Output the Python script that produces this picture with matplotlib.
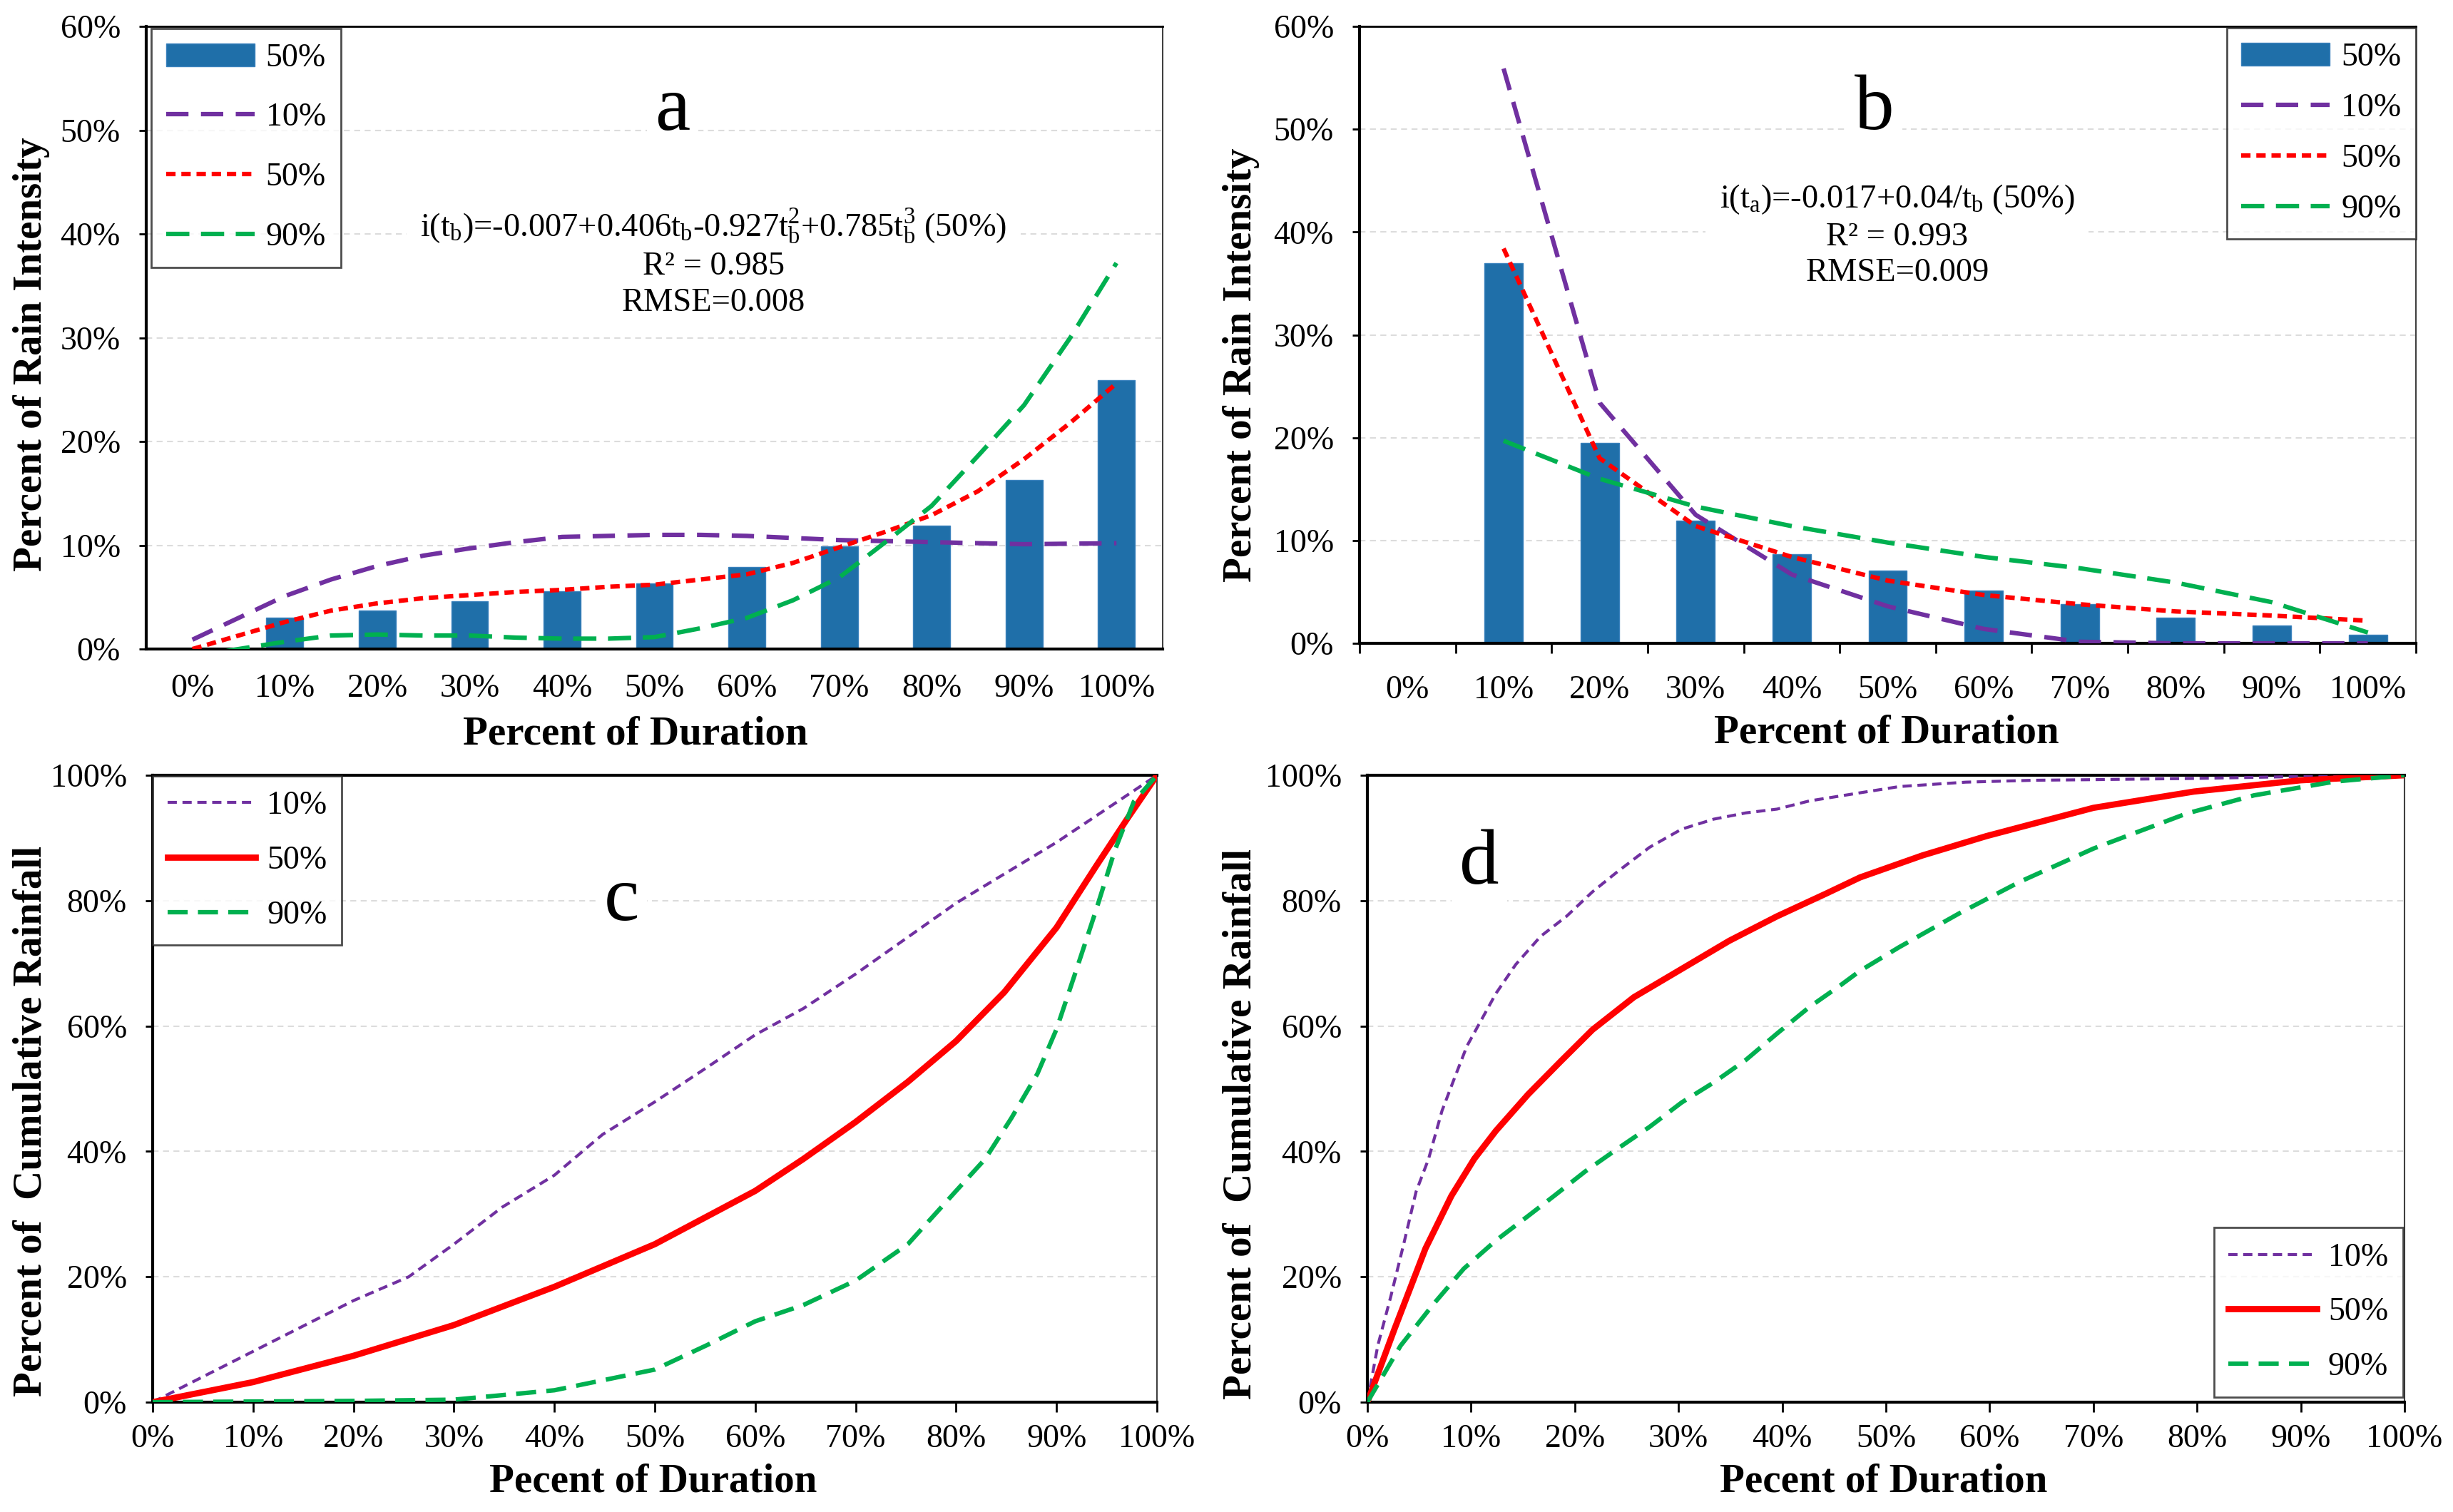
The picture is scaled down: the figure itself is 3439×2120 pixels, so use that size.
import matplotlib
matplotlib.use('Agg')
import matplotlib.pyplot as plt
import numpy as np
from matplotlib.ticker import FixedLocator, FuncFormatter

plt.rcParams['font.family'] = 'Liberation Serif'
plt.rcParams['mathtext.fontset'] = 'custom'
plt.rcParams['mathtext.rm'] = 'Liberation Serif'
plt.rcParams['mathtext.it'] = 'Liberation Serif:italic'

# ---- data (percent) ----
cat_labels = ['0%', '10%', '20%', '30%', '40%', '50%', '60%', '70%', '80%', '90%', '100%']
bar_pos = [1, 2, 3, 4, 5, 6, 7, 8, 9, 10]

# panel a: bars = observed 50%, curves read at every half category
a_bar = [3.0, 3.7, 4.6, 5.6, 6.3, 7.9, 9.9, 11.9, 16.3, 25.9]
a_line_x = [0, 0.5, 1, 1.5, 2, 2.5, 3, 3.5, 4, 4.5, 5, 5.5, 6, 6.5, 7, 7.5, 8, 8.5, 9, 9.5, 10]
a_p10 = [0.9, 3.0, 5.1, 6.7, 8.0, 9.0, 9.7, 10.3, 10.8, 10.9, 11.0, 11.0, 10.9, 10.7, 10.5,
         10.4, 10.3, 10.2, 10.1, 10.15, 10.2]
a_p50 = [0.0, 1.3, 2.6, 3.7, 4.4, 4.9, 5.2, 5.5, 5.7, 6.0, 6.2, 6.7, 7.2, 8.3, 9.8,
         11.3, 12.9, 15.2, 18.3, 21.8, 25.6]
a_p90 = [-0.75, 0.0, 0.7, 1.3, 1.4, 1.3, 1.3, 1.1, 1.0, 1.0, 1.15, 2.0, 3.0, 4.7, 6.9,
         10.3, 13.8, 18.6, 23.5, 30.0, 37.2]

# panel b
b_bar = [37.0, 19.5, 11.9, 8.7, 7.1, 5.1, 3.8, 2.5, 1.7, 0.86]
b_pos = [1, 2, 3, 4, 5, 6, 7, 8, 9, 10]
b_p10 = [55.9, 23.4, 12.5, 6.7, 3.6, 1.4, 0.15, 0.0, 0.0, 0.0]
b_p50 = [38.4, 18.0, 11.4, 8.4, 6.1, 4.7, 3.8, 3.1, 2.7, 2.2]
b_p90 = [19.7, 16.0, 13.3, 11.4, 9.8, 8.4, 7.3, 5.9, 4.0, 1.05]

# panel c: cumulative rainfall
c_p10_x = [0, 10, 20, 25.5, 30, 34.8, 40, 44.8, 50, 55.2, 60, 64.8, 70, 80, 90, 100]
c_p10_y = [0, 8.1, 16.2, 20, 25.2, 31.1, 36.2, 42.7, 47.9, 53.4, 58.6, 62.8, 68.3, 79.6, 89.3, 100]
c_p50_x = [0, 10, 20, 30, 40, 50, 60, 64.8, 70, 75.2, 80, 84.8, 90, 93.9, 97.1, 100]
c_p50_y = [0, 3.2, 7.4, 12.3, 18.4, 25.2, 33.7, 38.8, 44.7, 51.1, 57.6, 65.4, 75.7, 85.4, 93.2, 100]
c_p90_x = [0, 10, 20, 30, 40, 50, 55.2, 60, 64.8, 70, 75.2, 80, 82.9, 85.5, 88.1, 90, 91.9, 93.9, 95.8, 97.7, 100]
c_p90_y = [0, 0.1, 0.2, 0.4, 1.9, 5.2, 9.1, 12.9, 15.5, 19.4, 25.2, 33.7, 38.8, 45.3, 52.4, 59.5, 68.6, 78.3, 88, 95.8, 100]

# panel d
d_p10_x = [0, 1.0, 2.25, 3.5, 4.7, 5.9, 7.2, 8.4, 9.6, 10.9, 12.4, 14.3, 16.7, 19.2, 21.7, 24.1,
           27.2, 30.3, 33.4, 36.5, 39.5, 42.6, 47.5, 51.3, 57.7, 64.2, 70, 80, 90, 100]
d_p10_y = [0, 9, 16.8, 25.2, 33.6, 38.8, 46.5, 51.7, 56.8, 60.7, 65.2, 69.8, 74.3, 77.5, 81.4, 84.6,
           88.5, 91.4, 93.0, 94.0, 94.6, 95.9, 97.2, 98.2, 98.9, 99.2, 99.3, 99.5, 99.8, 100]
d_p50_x = [0, 2.6, 5.6, 8.1, 10.3, 12.4, 15.5, 18.6, 21.7, 25.7, 30.3, 34.9, 39.5, 44.2, 47.5,
           53.5, 59.7, 70, 79.7, 90, 100]
d_p50_y = [0, 11.6, 24.5, 32.9, 38.8, 43.3, 49.1, 54.3, 59.4, 64.6, 69.1, 73.6, 77.5, 81.1, 83.7,
           87.2, 90.3, 94.8, 97.4, 99.2, 100]
d_p90_x = [0, 3.2, 6.3, 9.3, 12.4, 15.5, 18.0, 21.0, 24.1, 27.2, 30.3, 33.4, 36.5, 39.5, 42.6,
           45.7, 47.5, 51.3, 57.1, 62.9, 70, 79, 85.5, 93.3, 100]
d_p90_y = [0, 9.0, 15.5, 21.3, 25.8, 29.7, 32.9, 36.8, 40.4, 43.9, 47.8, 51.0, 54.6, 58.8, 63.0,
           66.6, 68.8, 72.6, 78.0, 83.0, 88.3, 93.9, 96.8, 99, 100]

eq_a = ('i(t$_\\mathrm{b}$)=-0.007+0.406t$_\\mathrm{b}$-0.927t$_\\mathrm{b}^\\mathrm{2}$'
        '+0.785t$_\\mathrm{b}^\\mathrm{3}$ (50%)\nR\u00b2 = 0.985\nRMSE=0.008')
eq_b = 'i(t$_\\mathrm{a}$)=-0.017+0.04/t$_\\mathrm{b}$ (50%)\nR\u00b2 = 0.993\nRMSE=0.009'

# ---- style ----
BAR = '#1f6fa9'
PURPLE = '#7030a0'
RED = '#ff0000'
GREEN = '#00b050'
TICK_FS = 33
LAB_FS = 41
W, H = 3439, 2120

fig = plt.figure(figsize=(W / 100, H / 100), dpi=100)


def px_axes(l, t, r, b):
    return fig.add_axes([l / W, 1 - b / H, (r - l) / W, (b - t) / H])


pct = FuncFormatter(lambda v, p: '%d%%' % round(v))


def style(ax, top_lw):
    for s in ['left', 'bottom']:
        ax.spines[s].set_linewidth(3)
        ax.spines[s].set_color('black')
    ax.spines['top'].set_linewidth(top_lw)
    ax.spines['top'].set_color('black')
    ax.spines['right'].set_linewidth(1.5)
    ax.spines['right'].set_color('#404040')
    ax.yaxis.grid(True, color='#dcdcdc', linestyle=(0, (4, 3)), linewidth=1.5)
    ax.set_axisbelow(True)
    ax.yaxis.set_major_formatter(pct)
    ax.tick_params(axis='y', labelsize=TICK_FS, length=7, width=2, pad=19)


def legend(ax, handles, labels, loc, anchor, spacing):
    lg = ax.legend(handles, labels, loc=loc, bbox_to_anchor=anchor, fontsize=TICK_FS,
                   frameon=True, fancybox=False, borderaxespad=0, handlelength=2.7,
                   handletextpad=0.35, labelspacing=spacing, borderpad=0.45)
    lg.get_frame().set_edgecolor('#202020')
    lg.get_frame().set_linewidth(2)
    return lg


white = dict(facecolor='white', edgecolor='none', pad=8)
DASH_LONG = (5, 2.8)
DASH_SHORT = (2.1, 1.3)
DASH_GREEN = (5.2, 2.6)

# ---- panel a ----
ax = px_axes(205, 37, 1630, 910)
style(ax, 2)
ax.bar(bar_pos, a_bar, width=0.4, color=BAR, edgecolor='#3b82bd', linewidth=1, zorder=2)
la1, = ax.plot(a_line_x, a_p10, color=PURPLE, lw=4.5, dashes=DASH_LONG, zorder=3)
la2, = ax.plot(a_line_x, a_p50, color=RED, lw=4.5, dashes=DASH_SHORT, zorder=3)
la3, = ax.plot(a_line_x, a_p90, color=GREEN, lw=4.5, dashes=DASH_GREEN, zorder=3)
ax.set_xlim(-0.5, 10.5)
ax.set_ylim(0, 60)
ax.set_yticks(range(0, 61, 10))
ax.set_xticks(range(11))
ax.set_xticklabels(cat_labels)
ax.tick_params(axis='x', labelsize=TICK_FS, length=0, pad=25)
legend(ax, [ax.patches[0], la1, la2, la3], ['50%', '10%', '50%', '90%'], 'upper left', (0.005, 0.997), 0.9)
ax.text(0.518, 0.865, 'a', transform=ax.transAxes, fontsize=80, ha='center', va='center', bbox=white)
ax.text(0.558, 0.621, eq_a, transform=ax.transAxes, fontsize=33.5, ha='center', va='center',
        multialignment='center', linespacing=1.25, bbox=dict(facecolor='white', edgecolor='none', pad=14))
fig.text(44 / W, 1 - 497 / H, 'Percent of Rain Intensity', rotation=90, ha='center', va='center',
         fontsize=LAB_FS, fontweight='bold')
fig.text(891 / W, 1 - 1029 / H, 'Percent of Duration', ha='center', va='center',
         fontsize=LAB_FS, fontweight='bold')

# ---- panel b ----
ax = px_axes(1906, 37, 3387, 902)
style(ax, 2)
ax.bar(b_pos, b_bar, width=0.4, color=BAR, edgecolor='#3b82bd', linewidth=1, zorder=2)
lb1, = ax.plot(b_pos, b_p10, color=PURPLE, lw=4.5, dashes=DASH_LONG, zorder=3)
lb2, = ax.plot(b_pos, b_p50, color=RED, lw=4.5, dashes=DASH_SHORT, zorder=3)
lb3, = ax.plot(b_pos, b_p90, color=GREEN, lw=4.5, dashes=DASH_GREEN, zorder=3)
ax.set_xlim(-0.5, 10.5)
ax.set_ylim(0, 60)
ax.set_yticks(range(0, 61, 10))
ax.set_xticks(range(11))
ax.set_xticklabels(cat_labels)
ax.xaxis.set_minor_locator(FixedLocator(np.arange(-0.5, 11, 1.0)))
ax.tick_params(axis='x', which='major', labelsize=TICK_FS, length=0, pad=32)
ax.tick_params(axis='x', which='minor', length=10, width=2, color='black')
legend(ax, [ax.patches[0], lb1, lb2, lb3], ['50%', '10%', '50%', '90%'], 'upper right', (1.0, 0.998), 0.62)
ax.text(0.4875, 0.864, 'b', transform=ax.transAxes, fontsize=80, ha='center', va='center', bbox=white)
ax.text(0.509, 0.661, eq_b, transform=ax.transAxes, fontsize=33.5, ha='center', va='center',
        multialignment='center', linespacing=1.25, bbox=dict(facecolor='white', edgecolor='none', pad=14))
fig.text(1740 / W, 1 - 512 / H, 'Percent of Rain Intensity', rotation=90, ha='center', va='center',
         fontsize=LAB_FS, fontweight='bold')
fig.text(2645 / W, 1 - 1028 / H, 'Percent of Duration', ha='center', va='center',
         fontsize=LAB_FS, fontweight='bold')

# ---- panel c ----
ax = px_axes(214, 1087, 1622, 1966)
style(ax, 3)
lc1, = ax.plot(c_p10_x, c_p10_y, color=PURPLE, lw=3, dashes=(3.1, 1.9), zorder=3)
lc2, = ax.plot(c_p50_x, c_p50_y, color=RED, lw=6.3, zorder=3)
lc3, = ax.plot(c_p90_x, c_p90_y, color=GREEN, lw=4.5, dashes=(4.5, 2.3), zorder=3)
ax.set_xlim(0, 100)
ax.set_ylim(0, 100)
ax.set_yticks(range(0, 101, 20))
ax.set_xticks(range(0, 101, 10))
ax.xaxis.set_major_formatter(pct)
ax.tick_params(axis='x', labelsize=TICK_FS, length=10, width=2, pad=12)
legend(ax, [lc1, lc2, lc3], ['10%', '50%', '90%'], 'upper left', (0.0, 0.999), 0.75)
ax.text(0.467, 0.80, 'c', transform=ax.transAxes, fontsize=80, ha='center', va='center', bbox=white)
fig.text(44 / W, 1 - 1572 / H, 'Percent of  Cumulative Rainfall', rotation=90, ha='center', va='center',
         fontsize=LAB_FS, fontweight='bold')
fig.text(916 / W, 1 - 2077 / H, 'Pecent of Duration', ha='center', va='center',
         fontsize=LAB_FS, fontweight='bold')

# ---- panel d ----
ax = px_axes(1917, 1087, 3371, 1966)
style(ax, 3)
ld1, = ax.plot(d_p10_x, d_p10_y, color=PURPLE, lw=3, dashes=(3.1, 1.9), zorder=3)
ld2, = ax.plot(d_p50_x, d_p50_y, color=RED, lw=6.3, zorder=3)
ld3, = ax.plot(d_p90_x, d_p90_y, color=GREEN, lw=4.5, dashes=(4.5, 2.3), zorder=3)
ax.set_xlim(0, 100)
ax.set_ylim(0, 100)
ax.set_yticks(range(0, 101, 20))
ax.set_xticks(range(0, 101, 10))
ax.xaxis.set_major_formatter(pct)
ax.tick_params(axis='x', labelsize=TICK_FS, length=10, width=2, pad=12)
legend(ax, [ld1, ld2, ld3], ['10%', '50%', '90%'], 'lower right', (0.9986, 0.008), 0.75)
ax.text(0.108, 0.858, 'd', transform=ax.transAxes, fontsize=80, ha='center', va='center', bbox=white)
fig.text(1740 / W, 1 - 1576 / H, 'Percent of  Cumulative Rainfall', rotation=90, ha='center', va='center',
         fontsize=LAB_FS, fontweight='bold')
fig.text(2641 / W, 1 - 2077 / H, 'Pecent of Duration', ha='center', va='center',
         fontsize=LAB_FS, fontweight='bold')

fig.savefig('out.png', dpi=100)
